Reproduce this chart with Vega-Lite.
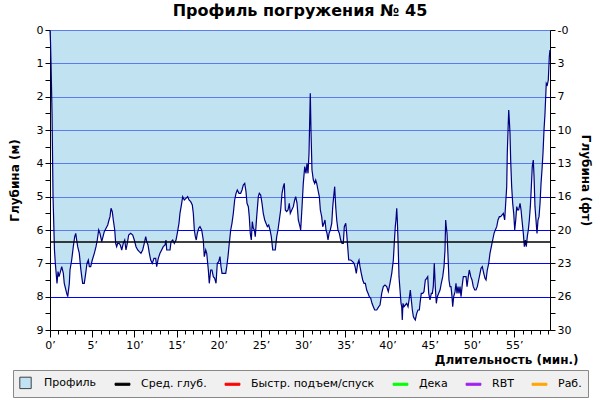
{
  "$schema": "https://vega.github.io/schema/vega-lite/v6.json",
  "width": 500,
  "height": 300,
  "autosize": {"type": "none"},
  "padding": {"left": 50, "top": 30, "right": 50, "bottom": 70},
  "config": {"font": "DejaVu Sans", "view": {"stroke": null}},
  "title": {"text": "Профиль погружения № 45", "fontSize": 16, "fontWeight": "bold", "offset": 5, "anchor": "middle", "color": "black"},
  "datasets": {
    "profile": [
      {"t":0,"d":0},{"t":0.06,"d":0.35},{"t":0.12,"d":1.0},{"t":0.24,"d":2.5},{"t":0.36,"d":5.0},{"t":0.53,"d":6.6},{"t":0.63,"d":7.0},{"t":0.83,"d":7.6},{"t":0.95,"d":7.25},{"t":1.07,"d":7.4},{"t":1.18,"d":7.3},{"t":1.39,"d":7.1},{"t":1.58,"d":7.3},{"t":1.69,"d":7.6},{"t":1.98,"d":7.9},{"t":2.10,"d":8.0},{"t":2.29,"d":7.6},{"t":2.37,"d":7.2},{"t":2.57,"d":6.9},{"t":2.76,"d":6.5},{"t":2.93,"d":6.2},{"t":3.05,"d":6.1},{"t":3.16,"d":6.3},{"t":3.28,"d":6.5},{"t":3.47,"d":6.7},{"t":3.64,"d":7.15},{"t":3.76,"d":7.4},{"t":3.87,"d":7.6},{"t":4.06,"d":7.6},{"t":4.23,"d":7.3},{"t":4.38,"d":7.0},{"t":4.54,"d":6.9},{"t":4.66,"d":7.1},{"t":4.82,"d":7.1},{"t":5.01,"d":6.9},{"t":5.25,"d":6.7},{"t":5.45,"d":6.5},{"t":5.60,"d":6.3},{"t":5.77,"d":6.0},{"t":5.92,"d":6.1},{"t":6.13,"d":6.35},{"t":6.28,"d":6.2},{"t":6.43,"d":6.05},{"t":6.64,"d":5.95},{"t":6.84,"d":5.85},{"t":6.99,"d":5.7},{"t":7.11,"d":5.6},{"t":7.23,"d":5.35},{"t":7.38,"d":5.45},{"t":7.50,"d":5.7},{"t":7.67,"d":6.0},{"t":7.78,"d":6.4},{"t":7.90,"d":6.5},{"t":8.02,"d":6.4},{"t":8.18,"d":6.4},{"t":8.33,"d":6.45},{"t":8.50,"d":6.6},{"t":8.68,"d":6.4},{"t":8.85,"d":6.3},{"t":9.00,"d":6.6},{"t":9.16,"d":6.4},{"t":9.32,"d":6.15},{"t":9.56,"d":6.1},{"t":9.80,"d":6.15},{"t":9.99,"d":6.3},{"t":10.19,"d":6.5},{"t":10.39,"d":6.6},{"t":10.58,"d":6.65},{"t":10.78,"d":6.7},{"t":10.98,"d":6.6},{"t":11.17,"d":6.4},{"t":11.34,"d":6.2},{"t":11.46,"d":6.35},{"t":11.61,"d":6.45},{"t":11.77,"d":6.7},{"t":11.93,"d":6.9},{"t":12.12,"d":7.0},{"t":12.32,"d":6.85},{"t":12.52,"d":6.85},{"t":12.64,"d":7.1},{"t":12.83,"d":6.85},{"t":13.03,"d":6.7},{"t":13.23,"d":6.6},{"t":13.42,"d":6.5},{"t":13.63,"d":6.45},{"t":13.74,"d":6.3},{"t":13.83,"d":6.6},{"t":14.22,"d":6.6},{"t":14.34,"d":6.35},{"t":14.54,"d":6.3},{"t":14.73,"d":6.4},{"t":14.93,"d":6.3},{"t":15.08,"d":6.1},{"t":15.28,"d":5.8},{"t":15.40,"d":5.5},{"t":15.60,"d":5.2},{"t":15.72,"d":5.0},{"t":15.91,"d":5.1},{"t":16.11,"d":5.05},{"t":16.31,"d":5.0},{"t":16.47,"d":5.1},{"t":16.67,"d":5.15},{"t":16.86,"d":5.25},{"t":16.98,"d":5.5},{"t":17.10,"d":6.0},{"t":17.22,"d":6.2},{"t":17.33,"d":6.3},{"t":17.45,"d":6.1},{"t":17.62,"d":5.95},{"t":17.77,"d":5.9},{"t":17.97,"d":6.0},{"t":18.16,"d":6.3},{"t":18.28,"d":6.8},{"t":18.45,"d":6.6},{"t":18.57,"d":6.7},{"t":18.76,"d":7.2},{"t":18.87,"d":7.6},{"t":19.04,"d":7.2},{"t":19.19,"d":7.2},{"t":19.35,"d":7.4},{"t":19.51,"d":7.45},{"t":19.67,"d":7.6},{"t":19.82,"d":7.0},{"t":19.99,"d":6.95},{"t":20.14,"d":6.8},{"t":20.26,"d":7.1},{"t":20.38,"d":7.3},{"t":20.62,"d":7.3},{"t":20.82,"d":7.3},{"t":20.94,"d":7.1},{"t":21.09,"d":6.8},{"t":21.24,"d":6.4},{"t":21.41,"d":6.0},{"t":21.56,"d":5.8},{"t":21.72,"d":5.5},{"t":21.88,"d":5.1},{"t":22.04,"d":4.9},{"t":22.19,"d":4.8},{"t":22.39,"d":4.9},{"t":22.59,"d":4.9},{"t":22.75,"d":4.8},{"t":22.90,"d":4.65},{"t":23.07,"d":4.6},{"t":23.22,"d":4.85},{"t":23.34,"d":5.2},{"t":23.50,"d":5.3},{"t":23.61,"d":5.6},{"t":23.73,"d":6.1},{"t":23.85,"d":6.3},{"t":23.97,"d":5.75},{"t":24.09,"d":5.95},{"t":24.21,"d":6.0},{"t":24.32,"d":6.2},{"t":24.49,"d":5.6},{"t":24.68,"d":5.0},{"t":24.80,"d":4.9},{"t":24.96,"d":4.95},{"t":25.12,"d":5.2},{"t":25.27,"d":5.5},{"t":25.44,"d":5.7},{"t":25.59,"d":5.8},{"t":25.75,"d":5.9},{"t":25.91,"d":5.85},{"t":26.07,"d":6.0},{"t":26.22,"d":6.2},{"t":26.39,"d":6.6},{"t":26.54,"d":6.6},{"t":26.69,"d":6.6},{"t":26.86,"d":6.2},{"t":27.01,"d":6.0},{"t":27.17,"d":5.7},{"t":27.33,"d":5.4},{"t":27.49,"d":4.9},{"t":27.64,"d":4.7},{"t":27.76,"d":4.6},{"t":27.88,"d":5.4},{"t":28.04,"d":5.45},{"t":28.20,"d":5.4},{"t":28.35,"d":5.2},{"t":28.47,"d":5.5},{"t":28.64,"d":5.4},{"t":28.83,"d":5.3},{"t":28.99,"d":5.1},{"t":29.11,"d":5.0},{"t":29.27,"d":5.2},{"t":29.42,"d":5.7},{"t":29.62,"d":5.9},{"t":29.70,"d":6.0},{"t":29.86,"d":5.3},{"t":30.01,"d":4.6},{"t":30.18,"d":4.1},{"t":30.33,"d":4.3},{"t":30.45,"d":4.0},{"t":30.57,"d":4.3},{"t":30.69,"d":3.7},{"t":30.77,"d":2.7},{"t":30.84,"d":1.9},{"t":30.92,"d":3.0},{"t":31.04,"d":4.2},{"t":31.20,"d":4.5},{"t":31.36,"d":4.6},{"t":31.48,"d":4.5},{"t":31.60,"d":4.6},{"t":31.75,"d":4.8},{"t":31.91,"d":5.0},{"t":32.03,"d":5.4},{"t":32.19,"d":5.6},{"t":32.31,"d":5.9},{"t":32.46,"d":5.8},{"t":32.58,"d":5.7},{"t":32.70,"d":6.0},{"t":32.82,"d":6.1},{"t":32.94,"d":6.3},{"t":33.06,"d":6.1},{"t":33.21,"d":6.0},{"t":33.38,"d":5.8},{"t":33.50,"d":5.3},{"t":33.61,"d":5.0},{"t":33.73,"d":4.7},{"t":33.85,"d":5.3},{"t":33.97,"d":5.7},{"t":34.12,"d":6.0},{"t":34.28,"d":6.1},{"t":34.44,"d":6.3},{"t":34.60,"d":6.4},{"t":34.75,"d":6.4},{"t":34.87,"d":5.9},{"t":35.04,"d":5.8},{"t":35.15,"d":6.1},{"t":35.27,"d":6.5},{"t":35.39,"d":6.9},{"t":35.63,"d":6.9},{"t":35.86,"d":6.95},{"t":36.02,"d":7.0},{"t":36.14,"d":7.1},{"t":36.29,"d":7.3},{"t":36.46,"d":7.0},{"t":36.61,"d":6.9},{"t":36.73,"d":7.1},{"t":36.88,"d":7.3},{"t":37.05,"d":7.5},{"t":37.20,"d":7.6},{"t":37.36,"d":7.6},{"t":37.52,"d":7.8},{"t":37.68,"d":7.9},{"t":37.83,"d":8.0},{"t":38.00,"d":8.05},{"t":38.15,"d":8.2},{"t":38.31,"d":8.3},{"t":38.47,"d":8.4},{"t":38.71,"d":8.4},{"t":38.95,"d":8.3},{"t":39.10,"d":8.25},{"t":39.30,"d":7.9},{"t":39.49,"d":7.7},{"t":39.69,"d":7.65},{"t":39.89,"d":7.7},{"t":40.08,"d":7.85},{"t":40.28,"d":7.6},{"t":40.49,"d":7.3},{"t":40.68,"d":6.9},{"t":40.79,"d":6.4},{"t":40.91,"d":5.9},{"t":40.99,"d":5.7},{"t":41.08,"d":5.35},{"t":41.15,"d":5.7},{"t":41.23,"d":6.3},{"t":41.35,"d":7.4},{"t":41.47,"d":7.8},{"t":41.59,"d":8.2},{"t":41.67,"d":8.3},{"t":41.74,"d":8.7},{"t":41.82,"d":8.2},{"t":41.94,"d":8.3},{"t":42.10,"d":8.25},{"t":42.26,"d":8.2},{"t":42.42,"d":8.3},{"t":42.54,"d":8.1},{"t":42.69,"d":7.8},{"t":42.81,"d":8.1},{"t":42.93,"d":8.4},{"t":43.05,"d":8.6},{"t":43.16,"d":8.65},{"t":43.28,"d":8.7},{"t":43.45,"d":8.5},{"t":43.60,"d":8.4},{"t":43.76,"d":8.4},{"t":43.84,"d":8.2},{"t":43.99,"d":7.9},{"t":44.16,"d":7.9},{"t":44.31,"d":7.85},{"t":44.47,"d":7.5},{"t":44.63,"d":7.45},{"t":44.75,"d":7.4},{"t":44.87,"d":7.9},{"t":45.02,"d":8.1},{"t":45.18,"d":7.9},{"t":45.30,"d":7.9},{"t":45.41,"d":7.7},{"t":45.53,"d":7.0},{"t":45.65,"d":7.7},{"t":45.77,"d":8.2},{"t":45.89,"d":8.0},{"t":46.05,"d":7.9},{"t":46.21,"d":7.8},{"t":46.36,"d":7.6},{"t":46.53,"d":7.4},{"t":46.68,"d":7.1},{"t":46.80,"d":6.6},{"t":46.88,"d":5.7},{"t":46.95,"d":5.9},{"t":47.04,"d":6.1},{"t":47.16,"d":6.8},{"t":47.27,"d":7.5},{"t":47.39,"d":7.7},{"t":47.51,"d":7.7},{"t":47.63,"d":8.0},{"t":47.71,"d":8.3},{"t":47.83,"d":8.0},{"t":47.99,"d":7.85},{"t":48.10,"d":7.6},{"t":48.22,"d":7.9},{"t":48.34,"d":7.7},{"t":48.46,"d":7.9},{"t":48.58,"d":7.7},{"t":48.70,"d":8.0},{"t":48.82,"d":7.7},{"t":48.97,"d":7.4},{"t":49.13,"d":7.4},{"t":49.29,"d":7.4},{"t":49.41,"d":7.7},{"t":49.56,"d":7.4},{"t":49.68,"d":7.2},{"t":49.85,"d":7.4},{"t":50.00,"d":7.5},{"t":50.15,"d":7.7},{"t":50.32,"d":7.8},{"t":50.47,"d":7.8},{"t":50.63,"d":7.7},{"t":50.79,"d":7.5},{"t":50.95,"d":7.3},{"t":51.07,"d":7.15},{"t":51.22,"d":7.1},{"t":51.39,"d":7.3},{"t":51.54,"d":7.45},{"t":51.66,"d":7.5},{"t":51.81,"d":7.2},{"t":51.98,"d":7.0},{"t":52.13,"d":6.7},{"t":52.29,"d":6.5},{"t":52.45,"d":6.3},{"t":52.61,"d":6.1},{"t":52.76,"d":6.0},{"t":52.93,"d":5.9},{"t":53.08,"d":5.7},{"t":53.24,"d":5.6},{"t":53.40,"d":5.6},{"t":53.55,"d":5.55},{"t":53.71,"d":5.5},{"t":53.87,"d":5.7},{"t":53.99,"d":5.2},{"t":54.11,"d":4.7},{"t":54.18,"d":3.7},{"t":54.27,"d":3.0},{"t":54.35,"d":2.4},{"t":54.42,"d":2.7},{"t":54.50,"d":3.1},{"t":54.58,"d":3.9},{"t":54.70,"d":4.7},{"t":54.82,"d":5.2},{"t":54.94,"d":5.5},{"t":55.06,"d":6.0},{"t":55.18,"d":5.7},{"t":55.30,"d":5.3},{"t":55.41,"d":5.4},{"t":55.53,"d":5.4},{"t":55.69,"d":5.2},{"t":55.81,"d":5.4},{"t":55.92,"d":5.7},{"t":56.08,"d":6.1},{"t":56.20,"d":6.5},{"t":56.32,"d":6.3},{"t":56.43,"d":6.5},{"t":56.55,"d":6.2},{"t":56.67,"d":6.0},{"t":56.79,"d":5.7},{"t":56.91,"d":5.3},{"t":57.03,"d":4.7},{"t":57.14,"d":4.1},{"t":57.26,"d":3.9},{"t":57.35,"d":4.4},{"t":57.46,"d":5.3},{"t":57.58,"d":5.7},{"t":57.70,"d":6.1},{"t":57.82,"d":5.7},{"t":57.94,"d":5.6},{"t":58.06,"d":5.2},{"t":58.18,"d":4.6},{"t":58.29,"d":4.2},{"t":58.41,"d":3.7},{"t":58.53,"d":3.0},{"t":58.65,"d":2.5},{"t":58.73,"d":2.0},{"t":58.80,"d":1.6},{"t":58.92,"d":1.65},{"t":59.04,"d":1.5},{"t":59.16,"d":0.8},{"t":59.24,"d":0.6}
    ],
    "avg": [{"avg": 6.36}],
    "legend": [
      {"series": "Профиль"}, {"series": "Сред. глуб."}, {"series": "Быстр. подъем/спуск"},
      {"series": "Дека"}, {"series": "RBT"}, {"series": "Раб."}
    ]
  },
  "layer": [
    {
      "data": {"name": "profile"},
      "mark": {"type": "area", "color": "#98cfe8", "fillOpacity": 0.6, "line": {"color": "#000080", "strokeWidth": 1.2}},
      "encoding": {
        "x": {
          "field": "t", "type": "quantitative",
          "scale": {"domain": [0, 59.24], "nice": false, "zero": false},
          "axis": {
            "values": [0,1,2,3,4,5,6,7,8,9,10,11,12,13,14,15,16,17,18,19,20,21,22,23,24,25,26,27,28,29,30,31,32,33,34,35,36,37,38,39,40,41,42,43,44,45,46,47,48,49,50,51,52,53,54,55,56,57,58,59],
            "labelExpr": "datum.value % 5 === 0 ? datum.value + '’' : ''",
            "labelOverlap": false, "labelFlush": false,
            "grid": false,
            "title": "Длительность (мин.)",
            "titleAnchor": "end", "titleAlign": "right", "titleBaseline": "alphabetic", "titleX": 528, "titleY": 33,
            "titleFontSize": 12, "titleFontWeight": "bold", "titleColor": "black",
            "labelFontSize": 11, "labelColor": "black", "labelPadding": 2,
            "tickSize": {"condition": {"test": "datum.value % 5 === 0", "value": 7}, "value": 4},
            "domainColor": "black", "tickColor": "black"
          }
        },
        "y": {
          "field": "d", "type": "quantitative",
          "scale": {"domain": [0, 9], "reverse": true, "nice": false},
          "axis": {
            "values": [0,0.5,1,1.5,2,2.5,3,3.5,4,4.5,5,5.5,6,6.5,7,7.5,8,8.5,9],
            "labelExpr": "datum.value % 1 ? '' : format(datum.value, 'd')",
            "labelOverlap": false, "labelFlush": false,
            "grid": true, "gridColor": "#0000ff",
            "gridOpacity": {"condition": {"test": "datum.value % 1 === 0", "value": 1}, "value": 0},
            "title": "Глубина (м)", "titleFontSize": 12, "titleFontWeight": "bold", "titleColor": "black", "titlePadding": 15,
            "labelFontSize": 11, "labelColor": "black", "tickSize": 5,
            "domainColor": "black", "tickColor": "black"
          }
        }
      }
    },
    {
      "data": {"name": "avg"},
      "mark": {"type": "rule", "color": "black", "strokeWidth": 1.5},
      "encoding": {
        "y": {
          "field": "avg", "type": "quantitative",
          "scale": {"domain": [0, 9], "reverse": true, "nice": false},
          "axis": {
            "orient": "right",
            "values": [0,0.5,1,1.5,2,2.5,3,3.5,4,4.5,5,5.5,6,6.5,7,7.5,8,8.5,9],
            "labelExpr": "datum.value % 1 ? '' : (datum.value === 0 ? '-0' : format(round(datum.value * 3.28084), 'd'))",
            "labelOverlap": false, "labelFlush": false,
            "grid": false,
            "title": "Глубина (фт)", "titleFontSize": 12, "titleFontWeight": "bold", "titleColor": "black", "titlePadding": 8,
            "labelFontSize": 11, "labelColor": "black", "tickSize": 5,
            "domainColor": "black", "tickColor": "black"
          }
        }
      }
    },
    {
      "data": {"name": "legend"},
      "mark": {"type": "point", "filled": true, "opacity": 0, "fillOpacity": 1, "strokeWidth": 1},
      "encoding": {
        "fill": {
          "field": "series", "type": "nominal", "title": null,
          "scale": {"domain": ["Профиль", "Сред. глуб.", "Быстр. подъем/спуск", "Дека", "RBT", "Раб."],
                    "range": ["#c0e2f2", "#000000", "#ff0000", "#00ff00", "#a020f0", "#ffa500"]},
          "legend": {
            "orient": "none", "legendX": -37, "legendY": 340, "direction": "horizontal",
            "fillColor": "#f0f0f0", "strokeColor": "#888888", "padding": 6,
            "columnPadding": 16, "labelOffset": 12, "labelFontSize": 11, "labelColor": "black",
            "symbolSize": 130, "symbolOpacity": 1, "symbolStrokeWidth": 1,
            "encode": {"symbols": {"update": {"fillOpacity": {"value": 1}, "opacity": {"value": 1}, "strokeOpacity": {"value": 1}}}}
          }
        },
        "stroke": {
          "field": "series", "type": "nominal", "title": null,
          "scale": {"domain": ["Профиль", "Сред. глуб.", "Быстр. подъем/спуск", "Дека", "RBT", "Раб."],
                    "range": ["#404040", "#000000", "#ff0000", "#00ff00", "#a020f0", "#ffa500"]}
        },
        "shape": {
          "field": "series", "type": "nominal", "title": null,
          "scale": {"domain": ["Профиль", "Сред. глуб.", "Быстр. подъем/спуск", "Дека", "RBT", "Раб."],
                    "range": ["M-1,-1H1V1H-1Z", "M-1.3,-0.18H1.3V0.18H-1.3Z", "M-1.3,-0.18H1.3V0.18H-1.3Z", "M-1.3,-0.18H1.3V0.18H-1.3Z", "M-1.3,-0.18H1.3V0.18H-1.3Z", "M-1.3,-0.18H1.3V0.18H-1.3Z"]}
        }
      }
    }
  ],
  "resolve": {"scale": {"y": "independent"}}
}
